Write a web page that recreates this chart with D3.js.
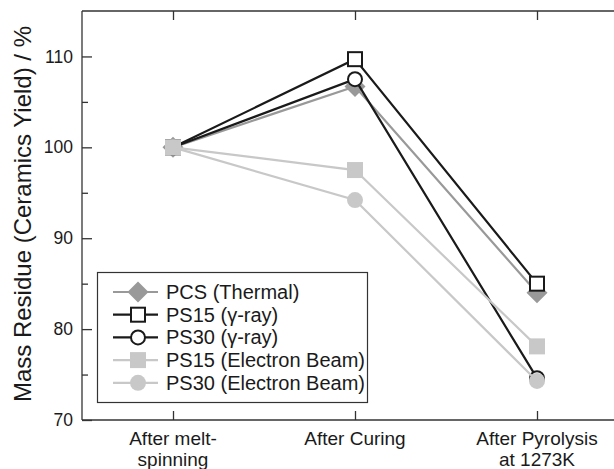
<!DOCTYPE html>
<html>
<head>
<meta charset="utf-8">
<script src="https://cdn.jsdelivr.net/npm/d3@7"></script>
<style>
  html, body { margin: 0; padding: 0; background: #fff; }
  svg { display: block; font-family: "Liberation Sans", Arial, Helvetica, sans-serif; }
</style>
</head>
<body>
<svg id="chart" width="614" height="469"></svg>
<script>
// Processing stages along the x axis
const stages = ["After melt-spinning", "After Curing", "After Pyrolysis at 1273K"];
const stageLines = [["After melt-", "spinning"], ["After Curing"], ["After Pyrolysis", "at 1273K"]];

// Mass residue (%) at each stage
const pcsThermal = [100, 106.7, 84.0];
const ps15Gamma = [100, 109.7, 85.0];
const ps30Gamma = [100, 107.5, 74.6];
const ps15EB = [100, 97.5, 78.1];
const ps30EB = [100, 94.2, 74.3];

const seriesNames = ["PCS (Thermal)", "PS15 (\u03b3-ray)", "PS30 (\u03b3-ray)", "PS15 (Electron Beam)", "PS30 (Electron Beam)"];
const yTicks = [70, 80, 90, 100, 110];
const yMinorTicks = [75, 85, 95, 105];

const series = [
  { name: seriesNames[0], values: pcsThermal, color: "#999999", shape: "diamond", fill: "#999999" },
  { name: seriesNames[1], values: ps15Gamma, color: "#1a1a1a", shape: "square", fill: "#ffffff" },
  { name: seriesNames[2], values: ps30Gamma, color: "#1a1a1a", shape: "circle", fill: "#ffffff" },
  { name: seriesNames[3], values: ps15EB, color: "#c8c8c8", shape: "square", fill: "#c8c8c8" },
  { name: seriesNames[4], values: ps30EB, color: "#c8c8c8", shape: "circle", fill: "#c8c8c8" }
];

const svg = d3.select("#chart");
const plotL = 82, plotT = 11, plotB = 420, plotR = 628;

const x = d3.scalePoint().domain(stages).range([plotL, plotR]).padding(0.5);
const y = d3.scaleLinear().domain([70, 115]).range([plotB, plotT]);

const axisColor = "#333";
const textColor = "#1a1a1a";

// Frame: left, bottom and top spines
const g = svg.append("g");
g.append("line").attr("x1", plotL).attr("x2", plotL).attr("y1", plotT).attr("y2", plotB)
  .attr("stroke", axisColor).attr("stroke-width", 1.3);
g.append("line").attr("x1", plotL).attr("x2", plotR).attr("y1", plotB).attr("y2", plotB)
  .attr("stroke", axisColor).attr("stroke-width", 1.3);
g.append("line").attr("x1", plotL).attr("x2", plotR).attr("y1", plotT).attr("y2", plotT)
  .attr("stroke", axisColor).attr("stroke-width", 1.3);

// Y axis: major ticks with labels, minor ticks between (pointing inwards)
const yAxis = d3.axisRight(y).tickValues(yTicks).tickSize(10).tickFormat(d3.format("d"));
const ya = svg.append("g").attr("transform", `translate(${plotL},0)`).call(yAxis);
ya.select(".domain").remove();
ya.selectAll(".tick line").attr("stroke", axisColor).attr("stroke-width", 1.3);
ya.selectAll(".tick text")
  .attr("x", -9).attr("text-anchor", "end")
  .attr("font-size", 17.5).attr("fill", textColor).attr("font-family", "Liberation Sans, Arial, sans-serif");

const yMinor = d3.axisRight(y).tickValues(yMinorTicks).tickSize(6).tickFormat("");
const ym = svg.append("g").attr("transform", `translate(${plotL},0)`).call(yMinor);
ym.select(".domain").remove();
ym.selectAll(".tick line").attr("stroke", axisColor).attr("stroke-width", 1.3);

// X axis: ticks inwards at the bottom, labels on two lines
const xAxis = d3.axisTop(x).tickSize(9).tickFormat("");
const xa = svg.append("g").attr("transform", `translate(0,${plotB})`).call(xAxis);
xa.select(".domain").remove();
xa.selectAll(".tick line").attr("stroke", axisColor).attr("stroke-width", 1.3);

// Mirrored ticks on the top spine
const xTop = d3.axisBottom(x).tickSize(9).tickFormat("");
const xt = svg.append("g").attr("transform", `translate(0,${plotT})`).call(xTop);
xt.select(".domain").remove();
xt.selectAll(".tick line").attr("stroke", axisColor).attr("stroke-width", 1.3);

stages.forEach((s, i) => {
  const t = svg.append("text")
    .attr("x", x(s)).attr("y", 445)
    .attr("text-anchor", "middle").attr("font-size", 19).attr("fill", textColor);
  stageLines[i].forEach((ln, j) => {
    t.append("tspan").attr("x", x(s)).attr("dy", j === 0 ? 0 : 21).text(ln);
  });
});

// Y axis title
svg.append("text")
  .attr("transform", `translate(31,214) rotate(-90)`)
  .attr("text-anchor", "middle").attr("font-size", 24).attr("fill", textColor)
  .text("Mass Residue (Ceramics Yield) / %");

// Marker drawing
function drawMarker(sel, shape, cx, cy, color, fill) {
  if (shape === "diamond") {
    sel.append("path")
      .attr("d", `M${cx},${cy - 10.5} L${cx + 10.5},${cy} L${cx},${cy + 10.5} L${cx - 10.5},${cy} Z`)
      .attr("fill", fill).attr("stroke", "none");
  } else if (shape === "square") {
    const s = fill === "#ffffff" ? 14 : 16;
    sel.append("rect")
      .attr("x", cx - s / 2).attr("y", cy - s / 2).attr("width", s).attr("height", s)
      .attr("fill", fill).attr("stroke", fill === "#ffffff" ? color : "none").attr("stroke-width", 2);
  } else {
    const r = fill === "#ffffff" ? 7 : 8;
    sel.append("circle").attr("cx", cx).attr("cy", cy).attr("r", r)
      .attr("fill", fill).attr("stroke", fill === "#ffffff" ? color : "none").attr("stroke-width", 2);
  }
}

const line = d3.line().x((d, i) => x(stages[i])).y(d => y(d));

series.forEach(sr => {
  const sg = svg.append("g");
  sg.append("path").attr("d", line(sr.values))
    .attr("fill", "none").attr("stroke", sr.color).attr("stroke-width", 2.2);
  sr.values.forEach((v, i) => drawMarker(sg, sr.shape, x(stages[i]), y(v), sr.color, sr.fill));
});

// Legend
const lg = svg.append("g");
lg.append("rect").attr("x", 97.5).attr("y", 272.5).attr("width", 270).attr("height", 130)
  .attr("fill", "#fff").attr("stroke", "#333").attr("stroke-width", 1.2);
series.forEach((sr, i) => {
  const cy = 292 + i * 22.7;
  lg.append("line").attr("x1", 113).attr("x2", 158).attr("y1", cy).attr("y2", cy)
    .attr("stroke", sr.color).attr("stroke-width", 2.2);
  drawMarker(lg, sr.shape, 138, cy, sr.color, sr.fill);
  lg.append("text").attr("x", 166).attr("y", cy + 7)
    .attr("font-size", 20).attr("fill", textColor).text(sr.name);
});
</script>
</body>
</html>
